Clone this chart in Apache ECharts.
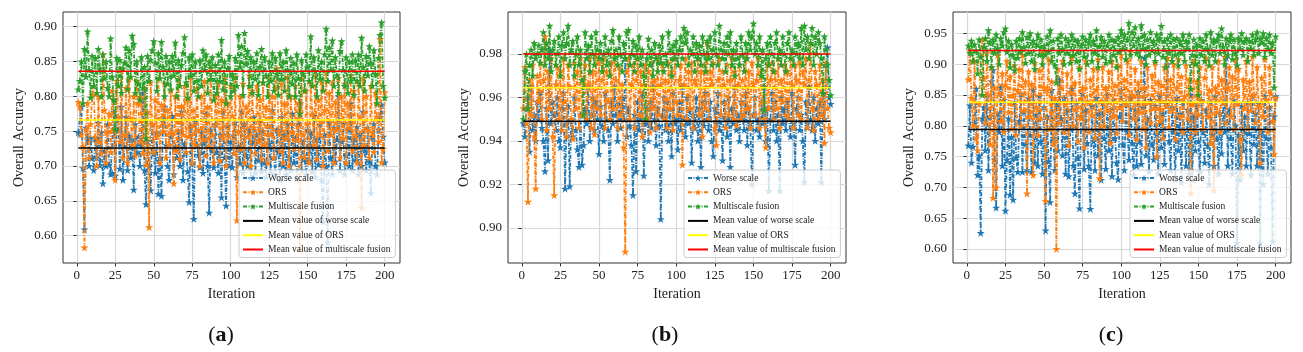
<!DOCTYPE html>
<html><head><meta charset="utf-8">
<script src="https://cdn.jsdelivr.net/npm/echarts@6/dist/echarts.min.js"></script>
<style>html,body{margin:0;padding:0;background:#fff}#c{width:1303px;height:352px}</style>
</head><body><div id="c"></div>
<script>
// ---- tick labels ----
const xTicks = [0, 25, 50, 75, 100, 125, 150, 175, 200];
const yTicksA = [0.60, 0.65, 0.70, 0.75, 0.80, 0.85, 0.90];
const yTicksB = [0.90, 0.92, 0.94, 0.96, 0.98];
const yTicksC = [0.60, 0.65, 0.70, 0.75, 0.80, 0.85, 0.90, 0.95];
const seriesNames = ['Worse scale', 'ORS', 'Multiscale fusion'];
const meanNames = ['Mean value of worse scale', 'Mean value of ORS', 'Mean value of multiscale fusion'];
const panelLabels = ['a', 'b', 'c'];

// ---- accuracy values (per mille), iterations 1..200 ----
const worseA = [
748,746,785,697,609,755,738,700,740,712, 694,739,712,762,701,748,675,722,700,760,
702,688,690,778,686,770,752,696,785,680, 728,770,694,744,712,738,666,760,718,742,
700,730,805,694,645,736,700,665,760,718, 690,748,660,712,657,764,785,730,700,680,
742,772,688,728,712,750,700,778,680,732, 720,692,648,758,704,624,764,730,716,698,
748,690,734,775,700,633,752,722,698,760, 720,690,745,655,778,712,643,758,700,735,
698,744,762,684,728,704,778,690,760,716, 700,752,682,735,770,690,745,708,766,692,
750,705,684,758,732,690,780,712,688,752, 720,680,770,700,745,688,760,712,694,775,
705,740,682,760,790,694,735,710,688,752, 708,748,692,772,684,738,702,760,680,620,
745,700,590,762,712,688,755,706,738,800, 694,735,760,688,715,752,700,790,694,740,
708,756,688,746,700,778,722,694,755,706, 661,742,760,700,688,752,770,788,742,705];
const orsA = [
792,785,745,728,583,752,790,712,760,802, 815,742,700,800,735,718,860,780,705,750,
775,720,808,752,680,822,770,735,838,712, 745,812,705,825,768,730,800,715,822,790,
735,798,718,812,702,778,612,820,760,720, 795,742,825,705,788,750,818,712,780,730,
808,748,675,800,722,825,710,786,745,815, 720,795,742,828,705,780,730,812,752,700,
800,738,822,715,785,728,840,745,705,800, 760,818,708,795,740,826,700,790,742,815,
772,718,828,622,750,800,725,818,705,785, 742,830,700,808,755,718,815,735,795,710,
820,730,785,705,826,745,800,712,812,840, 750,722,818,705,790,740,828,700,800,748,
725,815,738,790,580,826,745,712,808,760, 705,818,775,730,830,710,795,745,820,700,
780,835,722,805,745,820,705,792,752,826, 712,800,740,818,705,790,755,830,722,808,
745,705,818,770,640,826,730,800,752,712, 815,748,720,805,770,735,882,705,725,806];
const fusionA = [
810,822,850,790,868,828,893,838,798,858, 815,855,805,868,840,800,860,826,850,812,
800,883,828,795,752,855,815,852,805,840, 848,870,810,866,828,887,875,805,850,818,
795,856,812,842,740,858,822,852,866,879, 848,808,862,826,878,842,800,858,818,850,
810,858,830,877,800,852,815,845,862,885, 820,798,856,830,860,808,850,822,800,852,
815,866,838,860,805,850,825,856,795,845, 805,860,822,881,810,850,790,840,858,800,
832,808,855,815,888,842,872,802,891,846, 865,815,856,805,850,825,862,802,842,868,
820,856,830,800,850,822,862,808,855,832, 802,862,825,850,808,866,838,800,855,818,
848,800,860,826,775,852,832,808,860,842, 822,886,815,856,836,800,866,825,850,808,
860,897,822,870,838,880,815,856,830,805, 865,879,838,815,856,805,850,822,860,802,
852,822,860,815,884,842,808,858,830,872, 848,815,866,832,790,855,888,906,815,798];
const meansA = [0.726, 0.766, 0.836];

const worseB = [
948,942,955,960,935,965,945,952,940,958, 950,962,946,940,926,955,931,982,948,958,
952,945,960,940,937,955,962,918,948,956, 919,950,942,960,945,936,928,952,929,938,
955,948,965,940,952,960,945,958,950,934, 956,947,940,962,950,945,922,958,948,965,
952,940,957,946,960,950,978,942,955,947, 938,915,952,926,958,945,950,962,924,948,
955,940,958,946,965,950,938,955,947,904, 952,960,945,958,940,955,933,962,948,950,
936,958,945,965,950,942,960,948,955,930, 952,946,960,940,955,928,958,947,962,950,
945,958,940,933,955,948,962,945,952,931, 958,950,942,960,928,955,948,965,945,952,
940,958,950,945,962,938,955,948,920,952, 960,945,950,942,958,948,965,940,955,917,
950,962,945,958,940,952,917,960,948,955, 945,958,950,942,962,948,929,955,960,945,
952,940,921,958,948,965,950,945,960,940, 955,948,958,921,962,950,975,983,960,957];
const orsB = [
955,974,948,912,968,952,975,942,918,970, 958,976,950,968,988,945,972,955,978,942,
915,966,974,950,972,945,978,958,942,975, 965,950,941,976,955,972,946,978,952,968,
975,950,966,978,946,972,943,980,955,976, 952,968,978,946,972,958,950,976,955,980,
968,946,974,952,966,937,889,972,978,950, 966,975,946,968,978,952,972,942,966,975,
950,972,944,976,955,968,946,978,952,966, 975,950,968,946,976,955,972,945,978,958,
952,968,975,929,966,978,950,972,955,976, 946,968,966,978,952,972,942,975,955,985,
950,972,966,976,946,938,968,978,952,972, 966,946,975,952,968,978,950,972,947,966,
975,950,968,952,978,955,972,946,976,966, 952,968,978,946,972,958,950,937,975,955,
968,976,950,972,955,978,946,968,958,975, 952,972,950,978,966,946,975,968,952,976,
950,972,966,978,946,968,985,955,945,972, 966,950,975,952,968,939,976,955,946,944];
const fusionB = [
950,972,980,955,975,982,970,985,978,980, 984,976,982,990,975,985,978,993,972,982,
986,975,980,988,970,984,990,978,985,993, 975,982,986,970,980,988,975,982,968,952,
990,978,984,972,988,980,975,990,982,978, 985,972,980,988,975,982,970,986,991,978,
982,975,988,980,972,985,978,990,991,975, 980,986,972,984,978,988,975,982,970,950,
978,987,975,982,970,985,978,972,984,976, 988,972,980,975,990,982,970,984,978,986,
975,982,988,978,992,985,990,975,982,980, 988,972,985,978,984,975,988,980,972,986,
978,988,975,982,990,980,975,993,982,978, 985,972,988,980,990,975,982,970,985,978,
975,988,980,972,985,978,990,982,988,994, 980,985,975,988,970,982,954,978,985,975,
988,980,972,985,990,978,982,975,988,980, 972,985,990,978,982,975,988,980,985,978,
992,975,993,982,988,978,985,992,975,988, 980,990,985,978,962,988,982,975,968,961];
const meansB = [0.949, 0.9645, 0.980];

const worseC = [
768,833,740,766,805,860,720,752,626,812, 830,760,850,728,815,872,890,745,667,820,
790,862,735,842,662,745,812,688,782,680, 838,748,725,808,852,725,822,770,728,845,
785,725,858,740,818,735,848,775,722,830, 630,815,742,676,858,780,728,835,760,875,
812,752,845,722,826,718,795,860,735,690, 838,748,666,815,852,730,826,772,735,665,
832,775,728,845,752,820,712,838,780,730, 850,760,826,718,842,780,740,713,815,858,
770,728,838,790,745,846,772,720,826,735, 855,775,738,830,910,752,812,726,842,770,
745,832,785,722,848,765,820,738,836,900, 775,728,830,790,712,845,760,820,708,838,
790,735,826,722,850,712,815,760,832,775, 725,842,790,740,826,768,705,838,785,735,
848,780,722,820,755,838,790,910,735,826, 780,722,842,800,610,785,712,832,760,815,
735,838,788,720,848,770,820,735,836,610, 790,705,848,780,722,830,765,612,815,848];
const orsC = [
875,922,845,800,905,780,760,835,912,940, 878,805,918,850,770,895,683,862,700,915,
852,808,885,790,866,905,822,880,795,850, 898,785,858,892,800,915,825,872,690,888,
815,868,720,902,830,785,890,812,918,862, 678,858,908,795,872,770,845,600,892,805,
862,905,790,835,885,768,855,910,800,870, 828,775,895,812,862,765,905,840,790,875,
818,892,780,858,908,715,840,895,800,862, 825,888,772,905,815,866,788,898,830,915,
808,875,835,905,785,920,850,812,892,778, 870,822,905,795,862,765,895,838,805,882,
828,902,750,872,808,866,780,895,832,910, 798,875,825,900,778,862,908,815,880,790,
848,898,812,875,690,835,905,790,872,818, 895,840,795,878,910,815,858,772,895,695,
862,822,905,790,875,838,912,805,862,895, 815,880,795,908,835,892,778,720,875,828,
905,795,872,825,912,850,805,895,832,740, 878,815,908,842,790,895,852,808,754,845];
const fusionC = [
930,918,938,905,932,922,885,940,912,850, 928,942,905,955,935,895,940,918,948,926,
900,942,930,952,958,920,938,895,932,915, 890,938,910,942,920,952,928,902,944,918,
950,905,938,892,932,948,915,940,900,930, 915,945,920,955,905,938,898,870,942,918,
948,925,900,942,918,938,902,948,915,940, 905,938,892,930,945,912,940,900,935,948,
905,938,918,955,895,930,944,912,938,902, 930,948,905,940,915,938,895,944,920,955,
925,948,908,940,967,915,952,930,960,918, 942,912,963,925,948,900,940,915,952,922,
938,905,948,918,942,962,912,938,895,942, 918,948,905,940,915,942,898,938,918,948,
905,938,925,948,860,915,940,900,932,850, 942,915,938,905,948,925,898,952,915,940,
905,938,948,918,958,928,900,942,915,938, 948,908,940,918,898,942,925,950,915,938,
942,905,938,925,948,915,940,952,918,942, 935,950,912,942,925,948,918,935,862,945];
const meansC = [0.794, 0.838, 0.922];

// ---- rendering ----
const FONT = '"Liberation Serif","Times New Roman",serif';
const STAR = 'path://M50,2 L61.2,36.2 L97.6,36.2 L68.2,57.6 L79.4,91.8 L50,70.6 L20.6,91.8 L31.8,57.6 L2.4,36.2 L38.8,36.2 Z';
const dataColors = ['#1f77b4', '#ff7f0e', '#2ca02c'];
const meanColors = ['#000000', '#ffff00', '#ff0000'];

const panels = [
  { grid: { left: 63, top: 12, width: 337, height: 251 }, y: [0.5608, 0.921], yTicks: yTicksA,
    data: [worseA, orsA, fusionA], means: meansA, legend: { left: 239, top: 170 }, labelX: 221 },
  { grid: { left: 508, top: 12, width: 338, height: 251 }, y: [0.8838, 0.9993], yTicks: yTicksB,
    data: [worseB, orsB, fusionB], means: meansB, legend: { left: 684, top: 170 }, labelX: 665 },
  { grid: { left: 953, top: 12, width: 338, height: 251 }, y: [0.5773, 0.9846], yTicks: yTicksC,
    data: [worseC, orsC, fusionC], means: meansC, legend: { left: 1130, top: 170 }, labelX: 1111 }
];

const option = { animation: false, backgroundColor: '#fff', grid: [], xAxis: [], yAxis: [], series: [], legend: [], graphic: [] };

panels.forEach((p, gi) => {
  option.grid.push(Object.assign({ show: true, borderColor: '#333', borderWidth: 1, backgroundColor: 'transparent' }, p.grid));
  option.xAxis.push({
    gridIndex: gi, type: 'value', min: -8.95, max: 209.95,
    name: 'Iteration', nameLocation: 'middle', nameGap: 21,
    nameTextStyle: { fontFamily: FONT, fontSize: 14, color: '#222' },
    axisLine: { show: false },
    axisTick: { show: true, customValues: xTicks, length: 3.5, lineStyle: { color: '#333' } },
    axisLabel: { customValues: xTicks, fontFamily: FONT, fontSize: 13, color: '#222', margin: 6, formatter: v => String(v) },
    splitLine: { show: true, lineStyle: { color: '#d8d8d8', width: 1.2 } }
  });
  option.yAxis.push({
    gridIndex: gi, type: 'value', min: p.y[0], max: p.y[1],
    name: 'Overall Accuracy', nameLocation: 'middle', nameGap: 37,
    nameTextStyle: { fontFamily: FONT, fontSize: 14, color: '#222' },
    axisLine: { show: false },
    axisTick: { show: true, customValues: p.yTicks, length: 3.5, lineStyle: { color: '#333' } },
    axisLabel: { customValues: p.yTicks, fontFamily: FONT, fontSize: 13, color: '#222', margin: 6, formatter: v => v.toFixed(2) },
    splitLine: { show: true, lineStyle: { color: '#d8d8d8', width: 1.2 } }
  });
  p.data.forEach((arr, si) => {
    option.series.push({
      type: 'line', name: seriesNames[si], xAxisIndex: gi, yAxisIndex: gi,
      data: arr.map((v, i) => [i + 1, v / 1000]),
      symbol: STAR, symbolSize: 8, showSymbol: true,
      itemStyle: { color: dataColors[si] },
      lineStyle: { color: dataColors[si], width: 1.8, type: [4, 1.5, 1, 1.5] },
      z: 2 + si * 0.1
    });
  });
  p.means.forEach((m, si) => {
    option.series.push({
      type: 'line', name: meanNames[si], xAxisIndex: gi, yAxisIndex: gi,
      data: [[1, m], [200, m]], symbol: 'none',
      itemStyle: { color: meanColors[si] },
      lineStyle: { color: meanColors[si], width: 1.5, type: 'solid' },
      z: 3
    });
  });
  option.legend.push({
    left: p.legend.left, top: p.legend.top, orient: 'vertical',
    data: seriesNames.map(n => ({ name: n })).concat(meanNames.map(n => ({ name: n, itemStyle: { opacity: 0 } }))),
    itemWidth: 20, itemHeight: 8, itemGap: 2.3,
    padding: [2, 5, 2, 3],
    backgroundColor: 'rgba(255,255,255,0.8)', borderColor: '#cccccc', borderWidth: 1, borderRadius: 3,
    textStyle: { fontFamily: FONT, fontSize: 9.5, color: '#222', lineHeight: 12 },
    selectedMode: false, z: 10
  });
  option.graphic.push({
    type: 'text', x: p.labelX, y: 335, z: 10,
    style: {
      text: '{p|(}{b|' + panelLabels[gi] + '}{p|)}',
      align: 'center', verticalAlign: 'middle',
      rich: {
        p: { fontFamily: FONT, fontSize: 22, fill: '#111' },
        b: { fontFamily: FONT, fontSize: 22, fontWeight: 'bold', fill: '#111' }
      }
    }
  });
});

const chart = echarts.init(document.getElementById('c'));
chart.setOption(option);
</script>
</body></html>
